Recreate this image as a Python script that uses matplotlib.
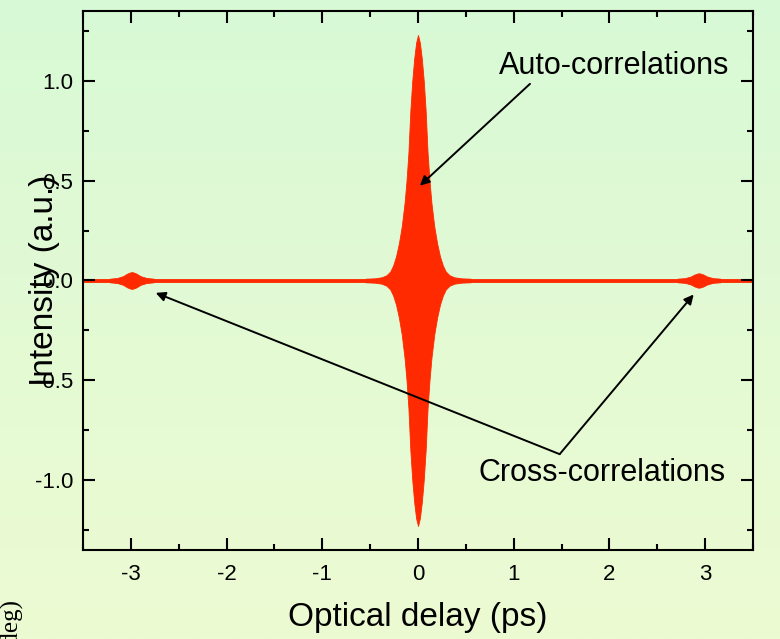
import numpy as np
import matplotlib.pyplot as plt
from matplotlib.colors import LinearSegmentedColormap

plt.rcParams['font.family'] = ['Liberation Sans', 'DejaVu Sans']
plt.rcParams['axes.unicode_minus'] = False

# Enveloppe du signal d'autocorrélation (pic central)
peak_delay = [-0.55, -0.45, -0.38, -0.33, -0.29, -0.26, -0.23, -0.20, -0.17, -0.14,
              -0.12, -0.10, -0.08, -0.06, -0.04, -0.02, 0.0,
              0.02, 0.04, 0.06, 0.08, 0.10, 0.12, 0.14, 0.17, 0.20, 0.23,
              0.26, 0.29, 0.33, 0.38, 0.45, 0.55]
peak_env = [0.009, 0.011, 0.016, 0.026, 0.045, 0.075, 0.12, 0.185, 0.27, 0.39,
            0.50, 0.64, 0.85, 1.00, 1.11, 1.19, 1.23,
            1.19, 1.11, 1.00, 0.85, 0.64, 0.50, 0.39, 0.27, 0.185, 0.12,
            0.075, 0.045, 0.026, 0.016, 0.011, 0.009]

# Intercorrélations de part et d'autre
left_delay = [-3.22, -3.14, -3.08, -3.04, -3.01, -2.99, -2.97, -2.94, -2.90, -2.84, -2.76]
left_env = [0.009, 0.013, 0.022, 0.034, 0.040, 0.042, 0.040, 0.034, 0.022, 0.013, 0.009]
right_delay = [2.71, 2.79, 2.85, 2.89, 2.92, 2.93, 2.95, 2.98, 3.02, 3.08, 3.16]
right_env = [0.009, 0.012, 0.020, 0.030, 0.035, 0.036, 0.035, 0.030, 0.020, 0.012, 0.009]

# Ligne de base
base_delay = [-3.5, 3.5]
base_env = [0.009, 0.009]

red = '#ff2a00'

fig = plt.figure(figsize=(7.8, 6.39), dpi=100)

# Fond en dégradé vert -> jaune
bg = fig.add_axes([0, 0, 1, 1], zorder=-10)
cmap = LinearSegmentedColormap.from_list('fond', ['#d8f9d6', '#edfbd2'])
bg.imshow(np.linspace(0, 1, 256).reshape(-1, 1), aspect='auto', cmap=cmap,
          extent=[0, 1, 0, 1])
bg.axis('off')

ax = fig.add_axes([0.1064, 0.1393, 0.8590, 0.8435])
ax.patch.set_alpha(0)

for d, e in [(base_delay, base_env), (left_delay, left_env),
             (right_delay, right_env), (peak_delay, peak_env)]:
    d = np.array(d)
    e = np.array(e)
    ax.fill_between(d, e, -e, color=red, lw=0.6, edgecolor=red)

ax.set_xlim(-3.5, 3.5)
ax.set_ylim(-1.35, 1.35)
ax.set_xticks([-3, -2, -1, 0, 1, 2, 3])
ax.set_xticks(np.arange(-3.5, 3.6, 0.5), minor=True)
ax.set_yticks([-1.0, -0.5, 0.0, 0.5, 1.0])
ax.set_yticklabels(['-1.0', '-0.5', '0.0', '0.5', '1.0'])
ax.set_yticks(np.arange(-1.25, 1.3, 0.25), minor=True)

ax.tick_params(which='both', direction='in', top=True, right=True,
               width=1.5, labelsize=16, colors='k')
ax.tick_params(which='major', length=8.5)
ax.tick_params(which='minor', length=4.5)
ax.tick_params(axis='x', pad=10)
ax.tick_params(axis='y', pad=7)
for s in ax.spines.values():
    s.set_linewidth(1.5)

ax.set_xlabel('Optical delay (ps)', fontsize=24, labelpad=12)
ax.set_ylabel('Intensity (a.u.)', fontsize=24, labelpad=-18)

arrow = dict(arrowstyle='-|>', color='k', lw=1.4, mutation_scale=14,
             shrinkA=0, shrinkB=0)
ax.annotate('', xy=(0.02, 0.475), xytext=(1.17, 0.985), arrowprops=arrow)
ax.annotate('', xy=(-2.74, -0.062), xytext=(1.48, -0.87), arrowprops=arrow)
ax.annotate('', xy=(2.88, -0.07), xytext=(1.48, -0.87), arrowprops=arrow)

ax.text(2.05, 1.075, 'Auto-correlations', fontsize=22, ha='center', va='center')
ax.text(1.92, -0.965, 'Cross-correlations', fontsize=22, ha='center', va='center')

fig.text(0.014, 0.064, '(deg)', fontsize=18, rotation=90, ha='center', va='top',
         family='Liberation Serif')

fig.savefig('out.png', dpi=100)
